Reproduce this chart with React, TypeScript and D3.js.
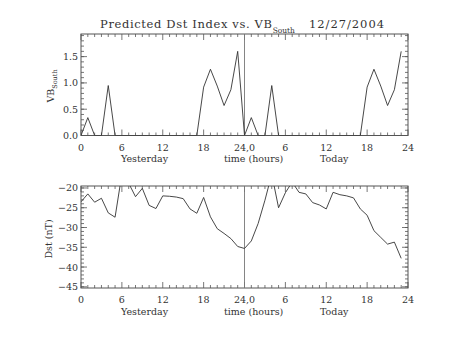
import React from "react";
import * as d3 from "d3";

const hours = d3.range(48);
const vbSouth = [
  0, 0.34, 0, 0, 0.95, 0, 0, 0, 0, 0, 0, 0, 0, 0, 0, 0, 0, 0, 0.92, 1.26, 0.94, 0.57, 0.87, 1.6,
  0, 0.34, 0, 0, 0.95, 0, 0, 0, 0, 0, 0, 0, 0, 0, 0, 0, 0, 0, 0.92, 1.26, 0.94, 0.57, 0.87, 1.6,
];
const dst = [
  -23.5, -21.5, -23.6, -22.6, -26.3, -27.4, -16.5, -18.8, -22.2, -20.1, -24.4, -25.2,
  -22.0, -22.1, -22.3, -22.7, -25.3, -26.4, -22.4, -27.3, -30.3, -31.5, -32.8, -34.8,
  -35.3, -33.4, -29.0, -23.1, -16.5, -25.0, -21.2, -18.5, -21.1, -21.5, -23.7, -24.3,
  -25.3, -21.1, -21.7, -22.0, -22.5, -25.3, -26.9, -30.8, -32.5, -34.2, -33.7, -37.8,
];
const xTickValues = [0, 6, 12, 18, 24, 30, 36, 42, 48];
const xTickLabels = ["0", "6", "12", "18", "24,0", "6", "12", "18", "24"];
const vbTicks = [0, 0.5, 1.0, 1.5];
const dstTicks = [-45, -40, -35, -30, -25, -20];

const FONT = "'DejaVu Serif', 'Liberation Serif', serif";
const AX = "#555";
const LINE = "#333";
const TXT = "#333";
const FS = 9.5;

const X0 = 81;
const X1 = 408;

type PanelProps = {
  top: number;
  bottom: number;
  domain: [number, number];
  values: number[];
  majors: number[];
  minorStep: number;
  fmt: (v: number) => string;
  id: string;
};

function Panel({ top, bottom, domain, values, majors, minorStep, fmt, id }: PanelProps) {
  const x = d3.scaleLinear().domain([0, 48]).range([X0, X1]);
  const y = d3.scaleLinear().domain(domain).range([bottom, top]);
  const line = d3
    .line<number>()
    .x((_, i) => x(hours[i]))
    .y((d) => y(d));
  const minorY = d3.range(Math.ceil(domain[0] / minorStep) * minorStep, domain[1] + 1e-9, minorStep);
  const minorX = d3.range(0, 49, 1);
  return (
    <g>
      <defs>
        <clipPath id={id}>
          <rect x={X0} y={top} width={X1 - X0} height={bottom - top} />
        </clipPath>
      </defs>
      <rect x={X0} y={top} width={X1 - X0} height={bottom - top} fill="none" stroke={AX} strokeWidth={1} />
      {minorX.map((h) => {
        const major = h % 6 === 0;
        const len = major ? 6 : 3;
        return (
          <g key={"xt" + h}>
            <line x1={x(h)} x2={x(h)} y1={bottom} y2={bottom - len} stroke={AX} strokeWidth={0.8} />
            <line x1={x(h)} x2={x(h)} y1={top} y2={top + len} stroke={AX} strokeWidth={0.8} />
          </g>
        );
      })}
      {minorY.map((v, i) => (
        <g key={"ym" + i}>
          <line x1={X0} x2={X0 + 3} y1={y(v)} y2={y(v)} stroke={AX} strokeWidth={0.8} />
          <line x1={X1} x2={X1 - 3} y1={y(v)} y2={y(v)} stroke={AX} strokeWidth={0.8} />
        </g>
      ))}
      {majors.map((v, i) => (
        <g key={"yM" + i}>
          <line x1={X0} x2={X0 + 6} y1={y(v)} y2={y(v)} stroke={AX} strokeWidth={0.8} />
          <line x1={X1} x2={X1 - 6} y1={y(v)} y2={y(v)} stroke={AX} strokeWidth={0.8} />
          <text x={X0 - 3} y={y(v) + 3.5} textAnchor="end" fontFamily={FONT} fontSize={FS} fill={TXT}>
            {fmt(v)}
          </text>
        </g>
      ))}
      {xTickValues.map((h, i) => (
        <text key={"xl" + i} x={x(h)} y={bottom + 15} textAnchor="middle" fontFamily={FONT} fontSize={FS} fill={TXT}>
          {xTickLabels[i]}
        </text>
      ))}
      <line x1={x(24)} x2={x(24)} y1={top} y2={bottom} stroke="#777" strokeWidth={0.9} />
      <path d={line(values) || ""} fill="none" stroke={LINE} strokeWidth={0.9} clipPath={`url(#${id})`} />
      <text x={121} y={bottom + 26.5} fontFamily={FONT} fontSize={FS} fill={TXT}>Yesterday</text>
      <text x={224} y={bottom + 26.5} fontFamily={FONT} fontSize={FS} fill={TXT}>time (hours)</text>
      <text x={320} y={bottom + 26.5} fontFamily={FONT} fontSize={FS} fill={TXT}>Today</text>
    </g>
  );
}

export default function App() {
  return (
    <svg width={453} height={340} style={{ display: "block", position: "absolute", left: 0, top: 0, background: "#fff" }}>
      <rect x={0} y={0} width={453} height={340} fill="#fff" />
      <text x={100} y={28} fontFamily={FONT} fontSize={11.5} fill={TXT}>
        <tspan textLength={172} lengthAdjust="spacing">Predicted Dst Index vs. VB</tspan>
        <tspan fontSize={7.5} dy={5}>South</tspan>
      </text>
      <text x={309} y={28} fontFamily={FONT} fontSize={11.5} fill={TXT} textLength={75} lengthAdjust="spacing">
        12/27/2004
      </text>
      <Panel
        id="c1"
        top={34}
        bottom={135.5}
        domain={[0, 1.93]}
        values={vbSouth}
        majors={vbTicks}
        minorStep={0.1}
        fmt={(v) => v.toFixed(1)}
      />
      <Panel
        id="c2"
        top={186}
        bottom={288}
        domain={[-45.3, -19.5]}
        values={dst}
        majors={dstTicks}
        minorStep={1}
        fmt={(v) => "\u2212" + Math.abs(v).toString()}
      />
      <text transform="translate(54,86) rotate(-90)" textAnchor="middle" fontFamily={FONT} fontSize={FS} fill={TXT}>
        VB<tspan fontSize={6.5} dy={3}>South</tspan>
      </text>
      <text transform="translate(52,239) rotate(-90)" textAnchor="middle" fontFamily={FONT} fontSize={FS} fill={TXT}>
        Dst (nT)
      </text>
    </svg>
  );
}
